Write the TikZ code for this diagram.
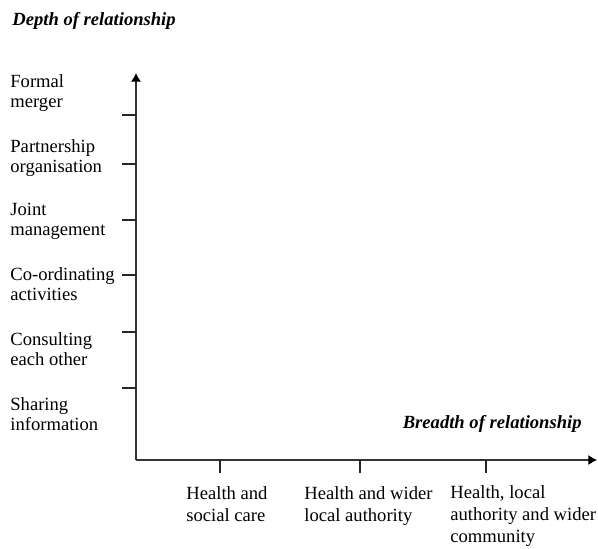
\documentclass[tikz,border=0pt]{standalone}
\usepackage{fontspec}
\setmainfont{Liberation Serif}
\usetikzlibrary{arrows.meta, positioning}

\begin{document}
\begin{tikzpicture}[x=0.5pt, y=-0.5pt,
	axis/.style={draw=black!80, line width=0.55pt, -{Latex[length=4.3pt,width=5pt,color=black]}},
	tick/.style={draw=black!85, line width=0.55pt},
	lbl/.style={anchor=base west, align=left, inner sep=0pt, font=\fontsize{9.3}{10}\selectfont},
	blbl/.style={lbl, font=\fontsize{9.3}{10.8}\selectfont},
	title/.style={inner sep=0pt, font=\fontsize{9.3}{10}\selectfont\bfseries\itshape}]
	\useasboundingbox (0,0) rectangle (598,548);
	\coordinate (o) at (136,460);
	\coordinate (ytip) at (136,73);
	\coordinate (xtip) at (597,460);
	\draw[axis] (o) -- (ytip);
	\draw[axis] (o) -- (xtip);
	\foreach \y in {115,164,220,275,332,388} {\draw[tick] (122,\y) -- (136,\y);}
	\foreach \x in {220,360,486} {\draw[tick] (\x,460) -- (\x,473);}
	% depth levels (anchored on last line)
	\node[lbl] (formal) at (10,107) {Formal\\merger};
	\node[lbl] (partner) at (10,172) {Partnership\\organisation};
	\node[lbl] (joint) at (10,235) {Joint\\management};
	\node[lbl] (coord) at (10,300) {Co-ordinating\\activities};
	\node[lbl] (consult) at (10,365) {Consulting\\each other};
	\node[lbl] (share) at (10,430) {Sharing\\information};
	% breadth levels
	\node[blbl] (hsc) at (186,521) {Health and\\social care};
	\node[blbl] (hla) at (304,521) {Health and wider\\local authority};
	\node[blbl] (hlac) at (450,542) {Health, local\\authority and wider\\community};
	% axis titles
	\node[title, anchor=base west] (depth) at (12,25) {Depth of relationship};
	\node[title, anchor=base east] (breadth) at (582,428) {Breadth of relationship};
\end{tikzpicture}
\end{document}
